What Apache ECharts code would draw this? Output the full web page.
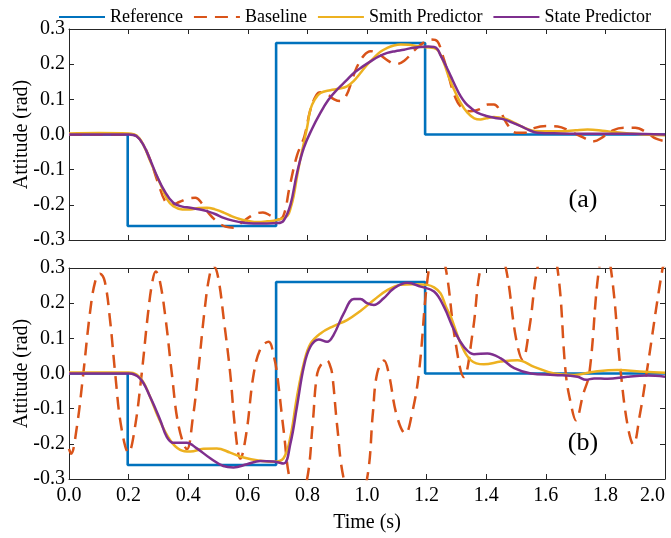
<!DOCTYPE html>
<html>
<head>
<meta charset="utf-8">
<script src="https://cdn.jsdelivr.net/npm/echarts@6/dist/echarts.min.js"></script>
<style>
  html, body { margin: 0; padding: 0; background: #fff; }
  #chart { width: 671px; height: 538px; }
</style>
</head>
<body>
<div id="chart"></div>
<script>
// reference step, same in both panels
var reference = [[0, 0], [0.197, 0], [0.197, -0.26], [0.695, -0.26], [0.695, 0.26], [1.195, 0.26], [1.195, 0], [2, 0]];

// (a) no disturbance
var baselineA = [
    [0, 0], [0.2, 0], [0.227, -0.005], [0.25, -0.03], [0.272, -0.071], [0.3, -0.14], [0.323, -0.19],
    [0.345, -0.2], [0.37, -0.192], [0.4, -0.182], [0.424, -0.18], [0.445, -0.195], [0.47, -0.225],
    [0.5, -0.25], [0.525, -0.262], [0.552, -0.265], [0.58, -0.25], [0.61, -0.232], [0.63, -0.224],
    [0.651, -0.222], [0.675, -0.23], [0.7, -0.242], [0.72, -0.23], [0.74, -0.15], [0.765, -0.06],
    [0.79, -0.005], [0.81, 0.07], [0.83, 0.112], [0.844, 0.12], [0.865, 0.115], [0.89, 0.1],
    [0.91, 0.095], [0.93, 0.11], [0.95, 0.155], [0.965, 0.19], [0.99, 0.225], [1.012, 0.237],
    [1.04, 0.228], [1.07, 0.21], [1.096, 0.2], [1.125, 0.21], [1.16, 0.24], [1.191, 0.262],
    [1.215, 0.27], [1.236, 0.265], [1.252, 0.23], [1.27, 0.18], [1.29, 0.12], [1.314, 0.08],
    [1.348, 0.066], [1.381, 0.073], [1.405, 0.085], [1.426, 0.085], [1.445, 0.07], [1.47, 0.03],
    [1.5, 0.005], [1.53, 0.005], [1.56, 0.018], [1.605, 0.024], [1.64, 0.023], [1.68, 0.01],
    [1.717, -0.005], [1.762, -0.019], [1.79, -0.008], [1.825, 0.012], [1.863, 0.019], [1.9, 0.019],
    [1.94, 0.005], [1.97, -0.012], [2, -0.019]
];
var smithA = [
    [0, 0.003], [0.1, 0.004], [0.2, 0.003], [0.227, -0.003], [0.25, -0.03], [0.272, -0.075],
    [0.306, -0.14], [0.33, -0.185], [0.35, -0.204], [0.38, -0.213], [0.407, -0.213], [0.435, -0.209],
    [0.463, -0.208], [0.49, -0.213], [0.519, -0.222], [0.547, -0.233], [0.575, -0.241], [0.603, -0.246],
    [0.631, -0.249], [0.665, -0.247], [0.698, -0.243], [0.732, -0.232], [0.745, -0.205], [0.754, -0.175],
    [0.765, -0.12], [0.776, -0.071], [0.788, -0.024], [0.8, 0.025], [0.81, 0.071], [0.825, 0.1],
    [0.844, 0.118], [0.877, 0.126], [0.905, 0.13], [0.933, 0.137], [0.955, 0.152], [0.978, 0.175],
    [1, 0.198], [1.023, 0.218], [1.045, 0.235], [1.068, 0.246], [1.09, 0.253], [1.113, 0.256],
    [1.14, 0.255], [1.169, 0.251], [1.2, 0.248], [1.225, 0.246], [1.24, 0.237], [1.258, 0.204],
    [1.275, 0.162], [1.292, 0.128], [1.314, 0.09], [1.337, 0.062], [1.36, 0.046], [1.381, 0.043],
    [1.4, 0.046], [1.426, 0.05], [1.45, 0.047], [1.471, 0.043], [1.495, 0.033], [1.516, 0.024],
    [1.54, 0.015], [1.561, 0.01], [1.6, 0.009], [1.65, 0.009], [1.7, 0.012], [1.74, 0.014],
    [1.79, 0.011], [1.829, 0.007], [1.88, 0.003], [1.93, 0], [2, -0.002]
];
var stateA = [
    [0, 0], [0.1, 0], [0.2, 0], [0.227, -0.005], [0.25, -0.03], [0.272, -0.071], [0.295, -0.118],
    [0.32, -0.16], [0.35, -0.194], [0.38, -0.205], [0.407, -0.208], [0.44, -0.213], [0.463, -0.218],
    [0.49, -0.226], [0.519, -0.237], [0.55, -0.245], [0.586, -0.251], [0.62, -0.253], [0.664, -0.253],
    [0.7, -0.252], [0.72, -0.245], [0.743, -0.2], [0.765, -0.11], [0.788, -0.038], [0.815, 0.015],
    [0.844, 0.062], [0.87, 0.098], [0.9, 0.128], [0.93, 0.153], [0.956, 0.175], [0.985, 0.193],
    [1.012, 0.208], [1.04, 0.222], [1.068, 0.232], [1.095, 0.237], [1.124, 0.241], [1.15, 0.246],
    [1.18, 0.249], [1.205, 0.25], [1.225, 0.249], [1.236, 0.243], [1.247, 0.225], [1.265, 0.195],
    [1.281, 0.166], [1.298, 0.135], [1.314, 0.109], [1.33, 0.09], [1.348, 0.076], [1.37, 0.062],
    [1.404, 0.052], [1.43, 0.047], [1.46, 0.043], [1.49, 0.033], [1.516, 0.024], [1.545, 0.012],
    [1.572, 0.005], [1.65, 0.003], [1.762, 0.002], [1.874, 0.002], [2, 0]
];

// (b) with disturbance
var baselineB = [
    [0, -0.214], [0.007, -0.228], [0.025, -0.16], [0.048, 0], [0.07, 0.17], [0.088, 0.262],
    [0.104, 0.284], [0.12, 0.262], [0.138, 0.15], [0.155, 0], [0.175, -0.15], [0.2, -0.225],
    [0.22, -0.16], [0.244, 0], [0.265, 0.17], [0.28, 0.262], [0.291, 0.29], [0.305, 0.262],
    [0.325, 0.15], [0.345, 0], [0.368, -0.15], [0.396, -0.215], [0.415, -0.13], [0.433, 0],
    [0.455, 0.18], [0.472, 0.28], [0.485, 0.305], [0.5, 0.275], [0.52, 0.15], [0.541, 0],
    [0.558, -0.16], [0.575, -0.242], [0.595, -0.17], [0.62, 0], [0.645, 0.075], [0.67, 0.09],
    [0.687, 0.05], [0.698, 0], [0.72, -0.16], [0.743, -0.31], [0.771, -0.36], [0.799, -0.3],
    [0.818, -0.14], [0.833, 0], [0.85, 0.03], [0.866, 0.037], [0.875, 0.025], [0.883, 0],
    [0.9, -0.15], [0.922, -0.3], [0.961, -0.4], [1, -0.3], [1.02, -0.11], [1.034, 0],
    [1.057, 0.037], [1.073, 0], [1.1, -0.12], [1.129, -0.171], [1.152, -0.11], [1.174, 0],
    [1.208, 0.3], [1.236, 0.37], [1.264, 0.3], [1.295, 0.1], [1.325, -0.01], [1.355, 0.12],
    [1.381, 0.3], [1.424, 0.42], [1.466, 0.3], [1.5, 0.1], [1.522, 0.04], [1.545, 0.13],
    [1.572, 0.3], [1.605, 0.39], [1.639, 0.3], [1.667, 0], [1.684, -0.085], [1.701, -0.133],
    [1.725, -0.06], [1.746, 0], [1.779, 0.3], [1.798, 0.33], [1.818, 0.3], [1.852, 0],
    [1.875, -0.15], [1.894, -0.202], [1.915, -0.12], [1.938, 0], [1.992, 0.3], [2, 0.31]
];
var smithB = [
    [0, 0.003], [0.2, 0.003], [0.227, -0.003], [0.25, -0.025], [0.272, -0.066], [0.3, -0.125],
    [0.339, -0.189], [0.373, -0.217], [0.407, -0.222], [0.451, -0.214], [0.496, -0.213], [0.541, -0.225],
    [0.586, -0.239], [0.642, -0.248], [0.687, -0.251], [0.72, -0.241], [0.743, -0.18], [0.765, -0.066],
    [0.788, 0.029], [0.81, 0.084], [0.844, 0.114], [0.888, 0.135], [0.933, 0.152], [0.978, 0.178],
    [1.023, 0.209], [1.068, 0.237], [1.112, 0.252], [1.157, 0.254], [1.202, 0.252], [1.225, 0.245],
    [1.247, 0.228], [1.265, 0.19], [1.281, 0.162], [1.314, 0.086], [1.348, 0.038], [1.392, 0.026],
    [1.449, 0.034], [1.505, 0.038], [1.561, 0.019], [1.628, 0], [1.695, -0.004], [1.762, 0.005],
    [1.84, 0.01], [1.93, 0.005], [2, 0.002]
];
var stateB = [
    [0, 0], [0.2, 0], [0.238, -0.014], [0.272, -0.066], [0.306, -0.132], [0.328, -0.18],
    [0.35, -0.197], [0.373, -0.197], [0.395, -0.197], [0.429, -0.213], [0.474, -0.241], [0.518, -0.263],
    [0.552, -0.267], [0.597, -0.258], [0.642, -0.249], [0.687, -0.25], [0.72, -0.256], [0.743, -0.199],
    [0.765, -0.094], [0.788, 0.019], [0.81, 0.076], [0.838, 0.097], [0.866, 0.09], [0.888, 0.11],
    [0.922, 0.171], [0.956, 0.212], [0.978, 0.212], [1, 0.2], [1.023, 0.195], [1.056, 0.214],
    [1.09, 0.242], [1.135, 0.258], [1.18, 0.247], [1.225, 0.233], [1.258, 0.19], [1.292, 0.124],
    [1.325, 0.076], [1.359, 0.055], [1.404, 0.057], [1.449, 0.043], [1.494, 0.015], [1.55, 0],
    [1.628, -0.004], [1.706, -0.009], [1.735, -0.018], [1.762, -0.014], [1.807, -0.015], [1.874, -0.009],
    [1.941, -0.006], [2, -0.009]
];

var names = ['Reference', 'Baseline', 'Smith Predictor', 'State Predictor'];
var colors = ['#0072BD', '#D95319', '#EDB120', '#7E2F8E'];

var FONT = "'Liberation Serif', 'Times New Roman', serif";
var AXIS_COLOR = '#262626';

function fmt(v) {
    if (Math.abs(v) < 1e-9) return '0.0';
    return v.toFixed(1);
}

function xAxisOf(grid, pos, labels) {
    return {
        type: 'value', gridIndex: grid, position: pos, min: 0, max: 2, interval: 0.2,
        axisLine: { onZero: false, lineStyle: { color: AXIS_COLOR, width: 1 } },
        axisTick: { inside: true, length: 5, lineStyle: { color: AXIS_COLOR } },
        axisLabel: { show: labels, formatter: fmt, color: '#000', fontFamily: FONT, fontSize: 20, margin: 7, alignMaxLabel: 'right' },
        splitLine: { show: false }
    };
}

function yAxisOf(grid, pos, labels) {
    return {
        type: 'value', gridIndex: grid, position: pos, min: -0.3, max: 0.3, interval: 0.1,
        name: labels ? 'Attitude (rad)' : '', nameLocation: 'middle', nameGap: 37, nameRotate: 90,
        nameMoveOverlap: false,
        nameTextStyle: { color: '#000', fontFamily: FONT, fontSize: 20 },
        axisLine: { onZero: false, lineStyle: { color: AXIS_COLOR, width: 1 } },
        axisTick: { inside: true, length: 5, lineStyle: { color: AXIS_COLOR } },
        axisLabel: { show: labels, formatter: fmt, color: '#000', fontFamily: FONT, fontSize: 20, margin: 4 },
        splitLine: { show: false }
    };
}

function lineSeries(idx, data, grid) {
    return {
        name: names[idx], type: 'line', data: data,
        xAxisIndex: grid, yAxisIndex: grid,
        showSymbol: false, symbol: 'none',
        smooth: idx === 0 ? false : 0.4,
        clip: true,
        lineStyle: { color: colors[idx], width: idx === 0 ? 2.6 : 2.5, type: idx === 1 ? [13, 8] : 'solid' },
        itemStyle: { color: colors[idx] },
        animation: false
    };
}

var bottomX = xAxisOf(1, 'bottom', true);
bottomX.name = 'Time (s)';
bottomX.nameLocation = 'middle';
bottomX.nameGap = 34;
bottomX.nameTextStyle = { color: '#000', fontFamily: FONT, fontSize: 20 };

var option = {
    backgroundColor: '#fff',
    animation: false,
    legend: {
        data: names, top: 3, left: 53, itemWidth: 46, itemHeight: 14, itemGap: 10,
        itemStyle: { opacity: 0 },
        textStyle: { color: '#000', fontFamily: FONT, fontSize: 18 }
    },
    grid: [
        { left: 69, right: 6, top: 29, height: 211, outerBoundsMode: 'none', containLabel: false },
        { left: 69, right: 6, top: 268, height: 211, outerBoundsMode: 'none', containLabel: false }
    ],
    xAxis: [xAxisOf(0, 'bottom', false), bottomX, xAxisOf(0, 'top', false), xAxisOf(1, 'top', false)],
    yAxis: [yAxisOf(0, 'left', true), yAxisOf(1, 'left', true), yAxisOf(0, 'right', false), yAxisOf(1, 'right', false)],
    graphic: [
        { type: 'text', x: 583, y: 200, style: { text: '(a)', fontFamily: FONT, fontSize: 26, fill: '#000', align: 'center', verticalAlign: 'middle' } },
        { type: 'text', x: 583, y: 443, style: { text: '(b)', fontFamily: FONT, fontSize: 26, fill: '#000', align: 'center', verticalAlign: 'middle' } }
    ],
    series: [
        lineSeries(0, reference, 0), lineSeries(1, baselineA, 0), lineSeries(2, smithA, 0), lineSeries(3, stateA, 0),
        lineSeries(0, reference, 1), lineSeries(1, baselineB, 1), lineSeries(2, smithB, 1), lineSeries(3, stateB, 1)
    ]
};

var myChart = echarts.init(document.getElementById('chart'));
myChart.setOption(option);
</script>
</body>
</html>
